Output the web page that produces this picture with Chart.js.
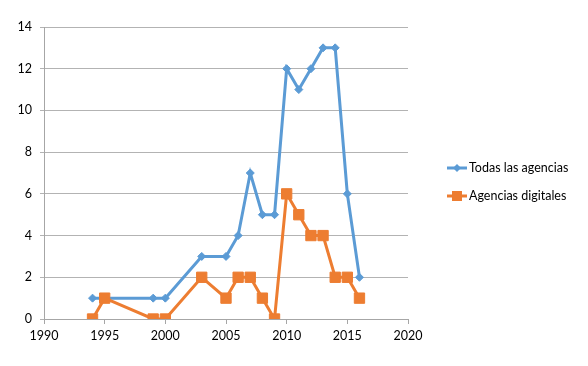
<!DOCTYPE html>
<html><head><meta charset="utf-8">
<script src="https://cdn.jsdelivr.net/npm/chart.js@4"></script>
<style>html,body{margin:0;padding:0;background:#fff}#wrap{width:588px;height:366px}</style>
</head><body><div id="wrap"><canvas id="c" width="588" height="366"></canvas></div>
<script>
const years = [1994,1995,1999,2000,2003,2005,2006,2007,2008,2009,2010,2011,2012,2013,2014,2015,2016];
const todas = [1,1,1,1,3,3,4,7,5,5,12,11,12,13,13,6,2];
const digitales = [0,1,0,0,2,1,2,2,1,0,6,5,4,4,2,2,1];
const seriesNames = ["Todas las agencias","Agencias digitales"];
const xTicks = [1990,1995,2000,2005,2010,2015,2020];
const yTicks = [0,2,4,6,8,10,12,14];

const BLUE = "#5B9BD5", ORANGE = "#ED7D31";
const FONT = "Lato, 'Open Sans', sans-serif";

const legendPlugin = {
  id: "customLegend",
  afterDraw(chart) {
    const ctx = chart.ctx;
    const items = [
      {name: seriesNames[0], color: BLUE, shape: "diamond"},
      {name: seriesNames[1], color: ORANGE, shape: "square"}
    ];
    ctx.save();
    items.forEach((it, i) => {
      const y = 168 + i * 28;
      ctx.strokeStyle = it.color; ctx.lineWidth = 3;
      ctx.beginPath(); ctx.moveTo(447, y); ctx.lineTo(467, y); ctx.stroke();
      ctx.fillStyle = it.color;
      if (it.shape === "diamond") {
        ctx.beginPath(); ctx.moveTo(457, y-4); ctx.lineTo(461, y); ctx.lineTo(457, y+4); ctx.lineTo(453, y); ctx.closePath(); ctx.fill();
      } else {
        ctx.fillRect(452, y-5, 10, 10);
      }
      ctx.fillStyle = "#000"; ctx.font = "12.5px " + FONT;
      ctx.textBaseline = "middle"; ctx.textAlign = "left";
      ctx.fillText(it.name, 469, y);
    });
    ctx.restore();
  }
};

new Chart(document.getElementById("c"), {
  type: "scatter",
  data: {
    datasets: [
      { label: seriesNames[0], data: years.map((x,i)=>({x, y: todas[i]})), showLine: true, order: 2,
        borderColor: BLUE, backgroundColor: BLUE, borderWidth: 3, pointStyle: "rectRot",
        pointRadius: 4, pointHoverRadius: 4, pointBorderWidth: 1, tension: 0 },
      { label: seriesNames[1], data: years.map((x,i)=>({x, y: digitales[i]})), showLine: true, order: 1,
        borderColor: ORANGE, backgroundColor: ORANGE, borderWidth: 3, pointStyle: "rect",
        pointRadius: 7.3, pointHoverRadius: 7.3, pointBorderWidth: 1, tension: 0 }
    ]
  },
  options: {
    responsive: false, animation: false, devicePixelRatio: 1,
    layout: { padding: { left: 0, right: 180, top: 27, bottom: 0 } },
    plugins: { legend: { display: false }, tooltip: { enabled: false } },
    scales: {
      x: {
        type: "linear", min: 1990, max: 2020,
        afterBuildTicks: s => { s.ticks = xTicks.map(v => ({value: v})); },
        afterFit: s => { s.height = 47; },
        grid: { drawOnChartArea: false, drawTicks: true, tickLength: 5, color: "#a6a6a6" },
        border: { color: "#a6a6a6", width: 1 },
        ticks: { color: "#000", font: { family: FONT, size: 12.5 }, padding: 4, maxRotation: 0, callback: v => String(v) }
      },
      y: {
        min: 0, max: 14,
        afterBuildTicks: s => { s.ticks = yTicks.map(v => ({value: v})); },
        afterFit: s => { s.width = 44; },
        grid: { drawOnChartArea: true, drawTicks: true, tickLength: 4, color: "#b3b3b3" },
        border: { color: "#a6a6a6", width: 1 },
        ticks: { color: "#000", font: { family: FONT, size: 12.5 }, padding: 8 }
      }
    }
  },
  plugins: [legendPlugin]
});
</script></body></html>
